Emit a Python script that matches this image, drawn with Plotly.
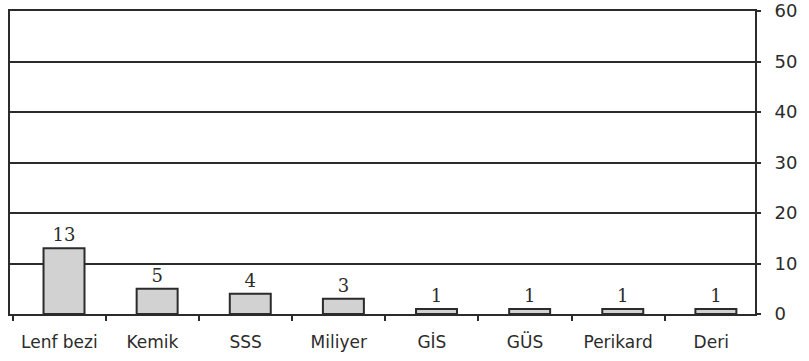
import plotly.graph_objects as go

# Tutulum bölgelerine göre olgu sayıları
categories = ["Lenf bezi", "Kemik", "SSS", "Miliyer", "GİS", "GÜS", "Perikard", "Deri"]
counts = [13, 5, 4, 3, 1, 1, 1, 1]
y_ticks = [0, 10, 20, 30, 40, 50, 60]

dark = "#2b2b2b"

fig = go.Figure(
    go.Bar(
        x=categories,
        y=counts,
        text=[str(v) for v in counts],
        textposition="outside",
        cliponaxis=False,
        textfont=dict(family="DejaVu Serif", size=18, color=dark),
        marker=dict(color="#d2d2d2", line=dict(color=dark, width=2)),
        width=0.44,
        offset=-0.17,
    )
)

fig.update_layout(
    width=809,
    height=361,
    margin=dict(l=10, r=54, t=11, b=47),
    paper_bgcolor="white",
    plot_bgcolor="white",
    showlegend=False,
    font=dict(family="DejaVu Sans", size=17, color=dark),
    xaxis=dict(
        type="category",
        range=[-0.53, 7.47],
        tickson="boundaries",
        ticks="outside",
        ticklen=5,
        tickwidth=2,
        tickcolor=dark,
        showline=True,
        linecolor=dark,
        linewidth=2,
        mirror=True,
        showgrid=False,
        automargin=False,
        ticklabelstandoff=12,
        tickfont=dict(family="DejaVu Sans", size=17, color=dark),
    ),
    yaxis=dict(
        side="right",
        range=[0, 60],
        tickvals=y_ticks,
        ticks="outside",
        ticklen=4,
        tickwidth=2,
        tickcolor=dark,
        showline=True,
        linecolor=dark,
        linewidth=2,
        mirror=True,
        showgrid=True,
        gridcolor=dark,
        gridwidth=2,
        zeroline=False,
        automargin=False,
        ticklabelstandoff=10,
        tickfont=dict(family="DejaVu Sans", size=18, color=dark),
    ),
)

fig.write_html("out.html")
